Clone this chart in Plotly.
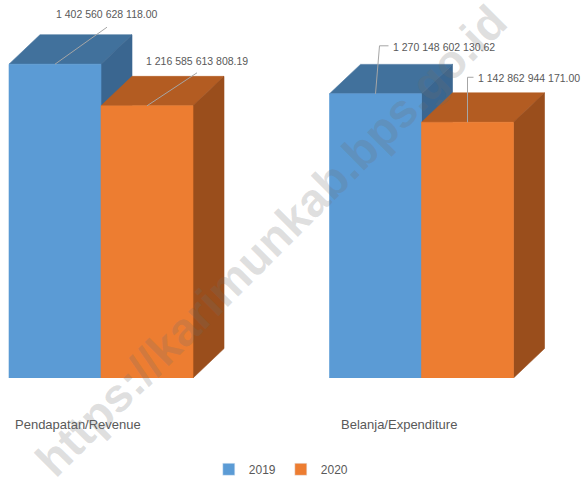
import plotly.graph_objects as go

# ---- data ----
categories = ["Pendapatan/Revenue", "Belanja/Expenditure"]
series_names = ["2019", "2020"]
values_2019 = [1402560628118.00, 1270148602130.62]
values_2020 = [1216585613808.19, 1142862944171.00]
label_2019 = ["1 402 560 628 118.00", "1 270 148 602 130.62"]
label_2020 = ["1 216 585 613 808.19", "1 142 862 944 171.00"]

# ---- styles / geometry ----
W, H = 586, 484
ML, MR, MT, MB = 0, 0, 20, 99
PX_PER_CAT = 320.5
X0_PX = 101
BAR_W = 92 / PX_PER_CAT
YMAX = 1.6e12
PX_PER_VAL = (H - MT - MB) / YMAX
DX = 31 / PX_PER_CAT
DY = 30 / PX_PER_VAL

front = {"2019": "#5B9BD5", "2020": "#ED7D31"}
top = {"2019": "#41719C", "2020": "#B35C22"}
side = {"2019": "#3A6690", "2020": "#9A4E1C"}
text_col = "#595959"
lab_font = "Liberation Sans, Arial, sans-serif"

fig = go.Figure()


def poly(xs, ys, color):
    fig.add_trace(go.Scatter(x=xs + [xs[0]], y=ys + [ys[0]], mode="lines", fill="toself",
                             fillcolor=color, line=dict(color=color, width=0.6),
                             hoverinfo="skip", showlegend=False))


for i, cat in enumerate(categories):
    c = float(i)
    for s, vals, x0 in (("2019", values_2019, c - BAR_W), ("2020", values_2020, c)):
        v = vals[i]
        x1 = x0 + BAR_W
        poly([x0, x1, x1 + DX, x0 + DX], [v, v, v + DY, v + DY], top[s])
        poly([x1, x1, x1 + DX, x1 + DX], [0, v, v + DY, DY], side[s])
        poly([x0, x1, x1, x0], [0, 0, v, v], front[s])

# legend-only entries
for s in series_names:
    fig.add_trace(go.Bar(x=[None], y=[None], name=s, marker_color=front[s]))

# data labels with leader lines (pixel offsets from the front-top edge midpoint)
straight = [(52, -37, 52, -50), (50, -33, 50, -45)]
for i in range(2):
    c = float(i)
    m19 = c - BAR_W / 2
    m20 = c + BAR_W / 2
    if i == 0:
        for m, v, lab, (ex, ey, tx, ty) in ((m19, values_2019[i], label_2019[i], straight[0]),
                                             (m20, values_2020[i], label_2020[i], straight[1])):
            fig.add_shape(type="path", xref="x", yref="y", xsizemode="pixel", ysizemode="pixel",
                          xanchor=m, yanchor=v, path=f"M0,0 L{ex},{-ey}",
                          line=dict(color="#A6A6A6", width=1))
            fig.add_annotation(x=m, y=v, xref="x", yref="y", text=lab, showarrow=False,
                               xshift=tx, yshift=-ty, font=dict(size=10.5, color=text_col, family=lab_font))
    else:
        for m, v, lab, (vx, vy, hx, tx) in ((m19, values_2019[i], label_2019[i], (4, -48, 13, 15)),
                                             (m20, values_2020[i], label_2020[i], (0, -45, 6, 8))):
            fig.add_shape(type="path", xref="x", yref="y", xsizemode="pixel", ysizemode="pixel",
                          xanchor=m, yanchor=v, path=f"M0,0 L{vx},{-vy} L{hx},{-vy}",
                          line=dict(color="#A6A6A6", width=1))
            fig.add_annotation(x=m, y=v, xref="x", yref="y", text=lab, showarrow=False,
                               xanchor="left", xshift=tx, yshift=-vy - 1,
                               font=dict(size=10.5, color=text_col, family=lab_font))

# category labels
for i, cat in enumerate(categories):
    fig.add_annotation(x=i - 23 / PX_PER_CAT, y=(H - MB - 432) / (H - MT - MB), xref="x", yref="paper",
                       yanchor="middle", text=cat, showarrow=False,
                       font=dict(size=13, color=text_col, family=lab_font))

# watermark
fig.add_annotation(x=271 / W, y=(H - MB - 245) / (H - MT - MB), xref="paper", yref="paper",
                   xanchor="center", yanchor="middle",
                   text="https://karimunkab.bps.go.id", textangle=-45, showarrow=False,
                   font=dict(size=47, color="rgba(110,110,110,0.22)", family="Liberation Sans",
                             weight="bold"))

fig.update_layout(
    width=W, height=H,
    margin=dict(l=ML, r=MR, t=MT, b=MB),
    plot_bgcolor="white", paper_bgcolor="white",
    xaxis=dict(range=[-X0_PX / PX_PER_CAT, (W - X0_PX) / PX_PER_CAT], visible=False, fixedrange=True),
    yaxis=dict(range=[0, YMAX], visible=False, fixedrange=True),
    showlegend=True,
    legend=dict(orientation="h", x=0.48, xanchor="center", y=-0.255, yanchor="middle",
                font=dict(size=12, color=text_col, family=lab_font), itemwidth=30),
)

fig.write_html("out.html", config={"displayModeBar": False},
               post_script="document.body.style.margin='0';")
